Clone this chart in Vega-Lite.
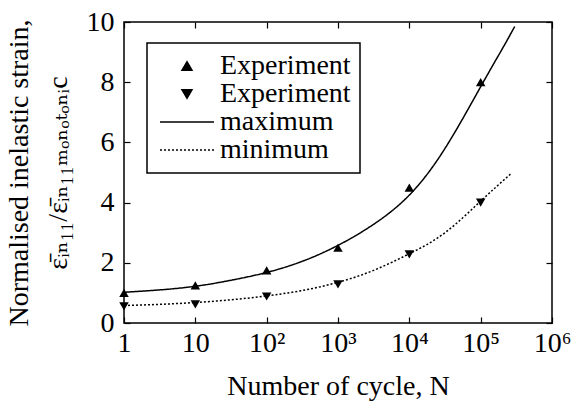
{
  "$schema": "https://vega.github.io/schema/vega-lite/v6.json",
  "width": 428,
  "height": 301,
  "autosize": "none",
  "padding": {"left": 124, "top": 22, "right": 23, "bottom": 83},
  "background": "white",
  "config": {
    "font": "Liberation Serif",
    "view": {"stroke": "black", "strokeWidth": 1.5},
    "axis": {"grid": false, "domain": false, "tickColor": "black", "tickWidth": 1.2, "labelColor": "black", "titleColor": "black", "labelFont": "Liberation Serif", "titleFont": "Liberation Serif", "titleFontWeight": "normal"},
    "legend": {"labelFont": "Liberation Serif", "strokeColor": "black", "strokeWidth": 1.5}
  },
  "datasets": {
    "curves": [
      {"N": 1, "v": 1.02, "series": "maximum"},
      {"N": 3.16, "v": 1.1, "series": "maximum"},
      {"N": 10, "v": 1.22, "series": "maximum"},
      {"N": 31.6, "v": 1.42, "series": "maximum"},
      {"N": 100, "v": 1.68, "series": "maximum"},
      {"N": 316, "v": 2.05, "series": "maximum"},
      {"N": 1000, "v": 2.58, "series": "maximum"},
      {"N": 3162, "v": 3.28, "series": "maximum"},
      {"N": 10000, "v": 4.25, "series": "maximum"},
      {"N": 31623, "v": 5.8, "series": "maximum"},
      {"N": 100000, "v": 7.85, "series": "maximum"},
      {"N": 200000, "v": 9.1, "series": "maximum"},
      {"N": 300000, "v": 9.85, "series": "maximum"},
      {"N": 1, "v": 0.58, "series": "minimum"},
      {"N": 3.16, "v": 0.62, "series": "minimum"},
      {"N": 10, "v": 0.68, "series": "minimum"},
      {"N": 31.6, "v": 0.77, "series": "minimum"},
      {"N": 100, "v": 0.9, "series": "minimum"},
      {"N": 316, "v": 1.08, "series": "minimum"},
      {"N": 1000, "v": 1.35, "series": "minimum"},
      {"N": 3162, "v": 1.75, "series": "minimum"},
      {"N": 10000, "v": 2.3, "series": "minimum"},
      {"N": 31623, "v": 3.0, "series": "minimum"},
      {"N": 100000, "v": 4.05, "series": "minimum"},
      {"N": 263000, "v": 4.95, "series": "minimum"}
    ],
    "points": [
      {"N": 1, "v": 1.0, "series": "exp_max"},
      {"N": 10, "v": 1.25, "series": "exp_max"},
      {"N": 100, "v": 1.75, "series": "exp_max"},
      {"N": 1000, "v": 2.5, "series": "exp_max"},
      {"N": 10000, "v": 4.5, "series": "exp_max"},
      {"N": 100000, "v": 8.0, "series": "exp_max"},
      {"N": 1, "v": 0.55, "series": "exp_min"},
      {"N": 10, "v": 0.62, "series": "exp_min"},
      {"N": 100, "v": 0.88, "series": "exp_min"},
      {"N": 1000, "v": 1.28, "series": "exp_min"},
      {"N": 10000, "v": 2.28, "series": "exp_min"},
      {"N": 100000, "v": 4.0, "series": "exp_min"}
    ]
  },
  "layer": [
    {
      "data": {"name": "curves"},
      "mark": {"type": "line", "color": "black", "strokeWidth": 1.5, "interpolate": "natural", "clip": false},
      "encoding": {
        "x": {"field": "N", "type": "quantitative",
          "scale": {"type": "log", "domain": [1, 1000000], "nice": false},
          "axis": {"orient": "bottom", "values": [1, 10, 100, 1000, 10000, 100000, 1000000], "tickSize": -6, "labelPadding": 12, "labelFontSize": 28, "labelFont": "Liberation Serif",
            "labelExpr": "datum.value == 1 ? '1' : datum.value == 10 ? '10' : datum.value == 100 ? '10²' : datum.value == 1000 ? '10³' : datum.value == 10000 ? '10⁴' : datum.value == 100000 ? '10⁵' : '10⁶'",
            "labelOverlap": false, "labelFlush": false,
            "title": "Number of cycle, N", "titleFont": "Liberation Serif", "titleFontSize": 28, "titlePadding": 15}},
        "y": {"field": "v", "type": "quantitative",
          "scale": {"domain": [0, 10], "nice": false},
          "axis": {"orient": "left", "values": [0, 2, 4, 6, 8, 10], "tickSize": -6, "labelPadding": 16, "labelFontSize": 28, "labelFont": "Liberation Serif", "labelFlush": false,
            "title": ["Normalised inelastic strain,", "ε̄ᵢₙ₁₁/ε̄ᵢₙ₁₁ₘₒₙₒₜₒₙᵢc"], "titleFont": "Liberation Serif, DejaVu Serif", "titleFontSize": 28, "titleLineHeight": 39, "titlePadding": 14}},
        "strokeDash": {"field": "series", "type": "ordinal",
          "scale": {"domain": ["exp_max", "exp_min", "maximum", "minimum"], "range": [[1, 0], [1, 0], [1, 0], [2, 2]]},
          "legend": {"title": null, "orient": "none", "legendX": 23, "legendY": 21,
            "strokeColor": "black", "fillColor": "white", "padding": 9,
            "symbolSize": 100, "symbolFillColor": "black", "symbolStrokeColor": "black", "symbolStrokeWidth": 1.5, "symbolOpacity": 1, "symbolOffset": 17,
            "labelFontSize": 28, "labelFont": "Liberation Serif", "labelColor": "black", "labelOffset": 19, "rowPadding": -1,
            "labelExpr": "datum.label == 'exp_max' || datum.label == 'exp_min' ? 'Experiment' : datum.label",
            "encoding": {"symbols": {"fill": {"value": "black"}, "stroke": {"value": "black"}, "strokeWidth": {"value": 1.5}}}}}
      }
    },
    {
      "data": {"name": "points"},
      "mark": {"type": "point", "filled": true, "color": "black", "opacity": 1, "size": 90, "clip": false},
      "encoding": {
        "x": {"field": "N", "type": "quantitative",
          "axis": {"orient": "top", "values": [1, 10, 100, 1000, 10000, 100000, 1000000], "tickSize": -6, "labels": false, "title": null}},
        "y": {"field": "v", "type": "quantitative",
          "axis": {"orient": "right", "values": [0, 2, 4, 6, 8, 10], "tickSize": -6, "labels": false, "title": null}},
        "shape": {"field": "series", "type": "ordinal",
          "scale": {"domain": ["exp_max", "exp_min", "maximum", "minimum"], "range": ["triangle-up", "triangle-down", "M-5.4,0H5.4", "M-5.4,0H5.4"]},
          "legend": {"title": null, "orient": "none", "legendX": 23, "legendY": 21,
            "strokeColor": "black", "fillColor": "white", "padding": 9,
            "symbolSize": 100, "symbolFillColor": "black", "symbolStrokeColor": "black", "symbolStrokeWidth": 1.5, "symbolOpacity": 1, "symbolOffset": 17,
            "labelFontSize": 28, "labelFont": "Liberation Serif", "labelColor": "black", "labelOffset": 19, "rowPadding": -1,
            "labelExpr": "datum.label == 'exp_max' || datum.label == 'exp_min' ? 'Experiment' : datum.label",
            "encoding": {"symbols": {"fill": {"value": "black"}, "stroke": {"value": "black"}, "strokeWidth": {"value": 1.5}}}}}
      }
    }
  ],
  "resolve": {"axis": {"x": "independent", "y": "independent"}}
}
